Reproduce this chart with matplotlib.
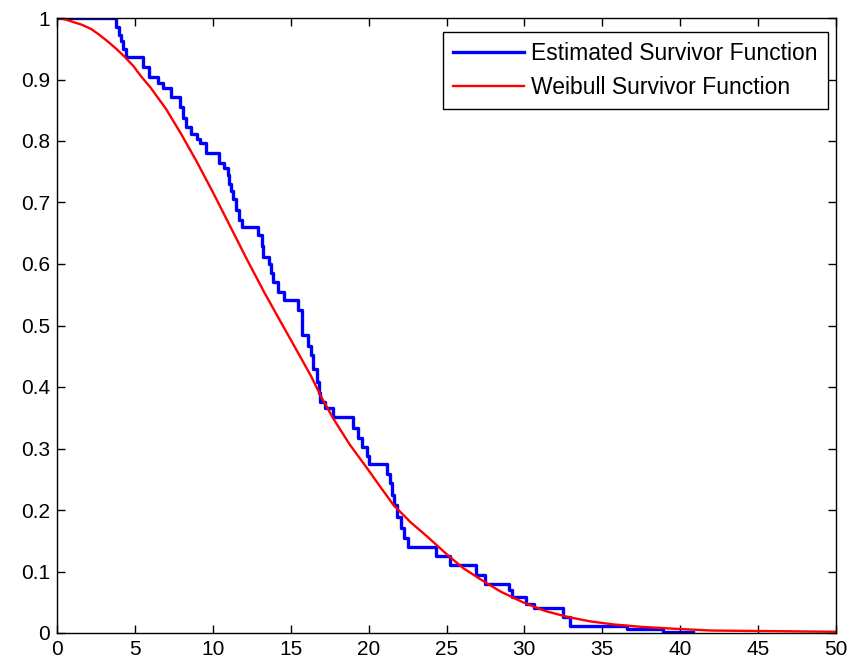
import numpy as np
import matplotlib
matplotlib.use('Agg')
import matplotlib.pyplot as plt

# Kaplan-Meier style estimate (step times and survivor values after each step)
km_time = [0, 3.8, 3.95, 4.1, 4.25, 4.4, 5.5, 5.9, 6.5, 6.8, 7.3, 7.9, 8.1, 8.3, 8.6,
           9.0, 9.2, 9.55, 10.4, 10.7, 10.95, 11.05, 11.15, 11.3, 11.5, 11.7, 11.9,
           12.9, 13.15, 13.25, 13.6, 13.75, 13.85, 14.2, 14.55, 15.5, 15.75, 16.1,
           16.3, 16.45, 16.7, 16.8, 16.9, 17.2, 17.7, 19.0, 19.3, 19.6, 19.9, 20.0,
           21.2, 21.4, 21.5, 21.6, 21.85, 22.05, 22.25, 22.5, 24.35, 25.2, 26.9,
           27.5, 29.0, 29.2, 30.1, 30.6, 32.5, 32.9, 36.6, 38.9, 40.8]
km_surv = [1.0, 0.985, 0.972, 0.962, 0.95, 0.937, 0.92, 0.904, 0.894, 0.886, 0.872,
           0.856, 0.838, 0.822, 0.812, 0.804, 0.796, 0.78, 0.764, 0.756, 0.745, 0.73,
           0.718, 0.705, 0.688, 0.672, 0.66, 0.647, 0.63, 0.612, 0.6, 0.585, 0.571,
           0.555, 0.541, 0.525, 0.485, 0.467, 0.452, 0.43, 0.408, 0.39, 0.376, 0.366,
           0.351, 0.333, 0.317, 0.302, 0.287, 0.274, 0.258, 0.244, 0.225, 0.208,
           0.188, 0.171, 0.155, 0.14, 0.126, 0.11, 0.095, 0.08, 0.07, 0.058, 0.047,
           0.04, 0.026, 0.012, 0.006, 0.002, 0.002]

# fitted Weibull curve
wb_time = [0, 0.5, 1.1, 1.6, 2.2, 2.7, 3.25, 3.8, 4.3, 4.9, 5.4, 6.0, 7.0, 8.0, 9.0,
           10.06, 11.1, 12.2, 13.3, 14.4, 15.0, 16.3, 17.0, 17.75, 18.8, 19.9, 20.8,
           21.6, 22.7, 23.8, 25.06, 26.1, 27.2, 28.5, 29.9, 31.3, 32.8, 34.2, 35.7,
           37.5, 39.55, 42, 46, 50]
wb_surv = [1.0, 0.998, 0.993, 0.989, 0.982, 0.973, 0.962, 0.95, 0.938, 0.922, 0.905,
           0.887, 0.852, 0.81, 0.765, 0.714, 0.662, 0.607, 0.554, 0.504, 0.477, 0.418,
           0.382, 0.348, 0.306, 0.268, 0.236, 0.208, 0.18, 0.156, 0.127, 0.105, 0.087,
           0.067, 0.05, 0.036, 0.026, 0.019, 0.014, 0.01, 0.007, 0.004, 0.003, 0.002]

plt.rcParams['font.family'] = ['Liberation Sans', 'DejaVu Sans']

fig = plt.figure(figsize=(8.48, 6.64), dpi=100)
ax = fig.add_axes([57 / 848, 1 - 633 / 664, (836 - 57) / 848, (633 - 18) / 664])

ax.step(km_time, km_surv, where='post', color='#0000ff', linewidth=2.4,
        label='Estimated Survivor Function')
ax.plot(wb_time, wb_surv, color='#ff0000', linewidth=1.7,
        label='Weibull Survivor Function')

ax.set_xlim(0, 50)
ax.set_ylim(0, 1)
ax.set_xticks(np.arange(0, 51, 5))
ax.set_yticks(np.arange(0, 1.01, 0.1))
ax.set_yticklabels(['0', '0.1', '0.2', '0.3', '0.4', '0.5', '0.6', '0.7', '0.8', '0.9', '1'])
ax.tick_params(direction='in', length=6, width=1, top=True, right=True, labelsize=15, pad=5)
for s in ax.spines.values():
    s.set_linewidth(1.0)

leg = ax.legend(loc='upper right', fontsize=16.5, frameon=True, fancybox=False,
                edgecolor='black', framealpha=1, handlelength=3.1, borderpad=0.45,
                labelspacing=0.45, handletextpad=0.3, borderaxespad=0,
                bbox_to_anchor=(0.9897, 0.977))
leg.get_frame().set_linewidth(1.0)

fig.savefig('out.png', dpi=100)
